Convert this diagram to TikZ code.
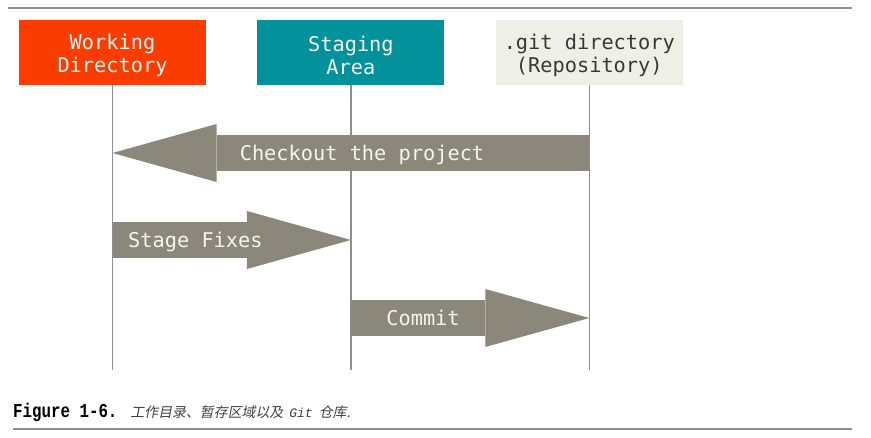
\documentclass[tikz,border=0pt]{standalone}
\usepackage{fontspec}
\setmonofont{DejaVu Sans Mono}
\newfontfamily\capmono{Liberation Mono}
\newfontfamily\cjk[FakeSlant=0.2]{Noto Sans CJK SC}
\usetikzlibrary{arrows.meta, positioning}
\definecolor{wdcol}{HTML}{FB3C00}
\definecolor{stcol}{HTML}{03929B}
\definecolor{gitcol}{HTML}{EEF0E7}
\definecolor{arrcol}{HTML}{8B887B}
\definecolor{linecol}{HTML}{8F8F8F}
\definecolor{lighttext}{HTML}{F4F4F0}
\newcommand{\boxstrut}{\rule{0pt}{21.5pt}}
\tikzstyle{box}=[rectangle,minimum width=187pt,minimum height=65pt,inner sep=0pt,align=center,
  font=\ttfamily\fontsize{20.3}{22.5}\selectfont]
\tikzstyle{lifeline}=[draw=linecol,line width=1.5pt]
\tikzstyle{fatarrow}=[draw=arrcol,line width=36pt,-{Triangle[length=104pt,width=58pt,line width=0pt]}]
\tikzstyle{arrlabel}=[text=lighttext,inner sep=0pt,text height=15.4pt,text depth=0pt,
  font=\ttfamily\fontsize{20.3}{23}\selectfont]

\begin{document}
\begin{tikzpicture}[x=1pt,y=-1pt]
  \useasboundingbox (0,0) rectangle (871,438);
  \draw[draw=linecol,line width=2pt] (8,8) -- (852,8);
  \node[box, fill=wdcol, text=lighttext] (wd) at (112.5,52.5) {\boxstrut Working\\Directory};
  \node[box, fill=stcol, text=lighttext, right=51pt of wd] (st) {\boxstrut Staging\\Area};
  \node[box, fill=gitcol, text={black!78}, right=51pt of st] (git) {\boxstrut .git directory\\(Repository)};
  \coordinate (base) at (0,370);
  \draw[lifeline] (wd) -- (wd |- base);
  \draw[lifeline] (st) -- (st |- base);
  \draw[lifeline] (git) -- (git |- base);
  % the three moves between the areas
  \coordinate (co) at (0,153);
  \coordinate (sf) at (0,240);
  \coordinate (cm) at (0,318);
  \draw[fatarrow] (git |- co) -- (wd |- co);
  \draw[fatarrow] (wd |- sf) -- (st |- sf);
  \draw[fatarrow] (st |- cm) -- (git |- cm);
  \node[arrlabel] (colabel) at (362,153) {Checkout the project};
  \node[arrlabel, anchor=west] (sflabel) at (128,240) {Stage Fixes};
  \node[arrlabel] (cmlabel) at (423,318) {Commit};
  \node[anchor=west, inner sep=0pt] (cap) at (13,412.5)
    {\scalebox{1}[1.25]{\capmono\bfseries\fontsize{15.8}{18}\selectfont Figure 1-6.}\hspace{13pt}{\color{black!75}\cjk\fontsize{13.9}{16}\selectfont 工作目录、暂存区域以及\hspace{6pt}{\capmono\itshape\fontsize{13}{16}\selectfont Git}\hspace{6pt}仓库.}};
  \draw[draw=linecol,line width=2pt] (13,429) -- (852,429);
\end{tikzpicture}
\end{document}
